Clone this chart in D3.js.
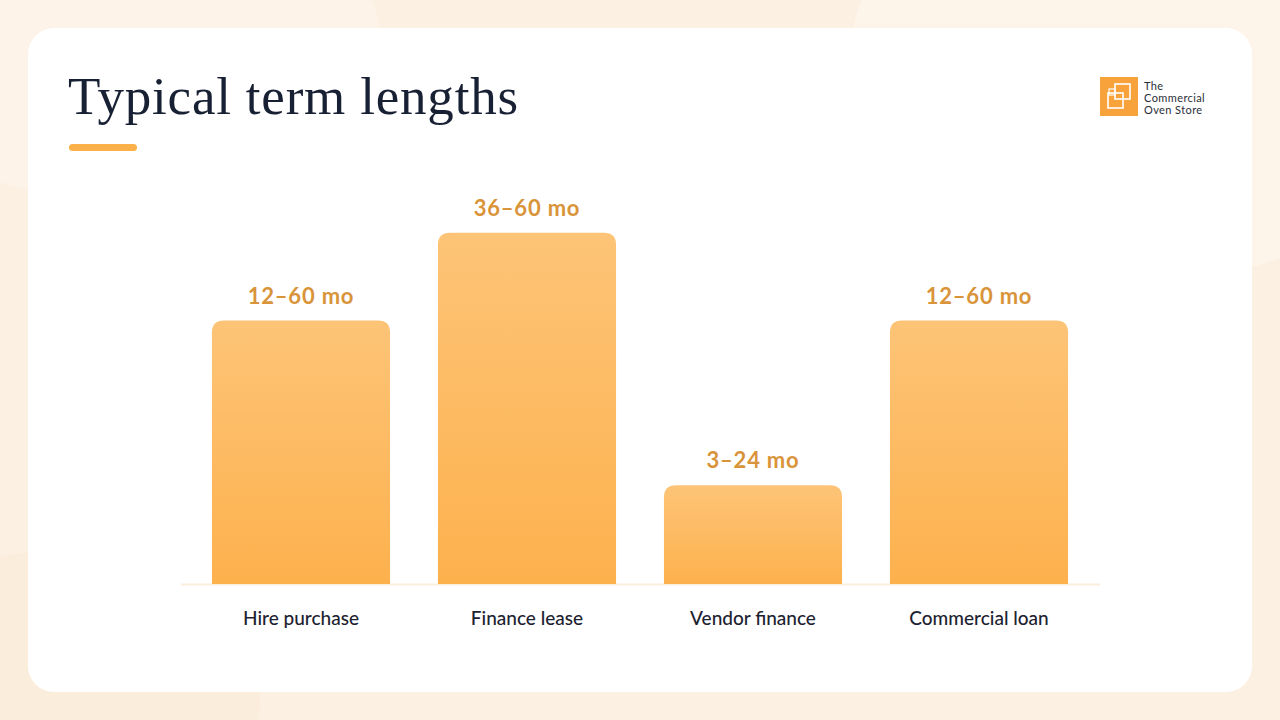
<!DOCTYPE html>
<html><head><meta charset="utf-8">
<script src="https://cdn.jsdelivr.net/npm/d3@7"></script>
<style>html,body{margin:0;padding:0;background:#fcf0e2;}svg{display:block;}</style>
</head><body><div id="chart"></div>
<script>
const categories = ["Hire purchase", "Finance lease", "Vendor finance", "Commercial loan"];
const rangeLabels = ["12–60 mo", "36–60 mo", "3–24 mo", "12–60 mo"];
const barValues = [36, 48, 13.5, 36];
const yDomain = [0, 60];

const W = 1280, H = 720;
const svg = d3.select("#chart").append("svg").attr("width", W).attr("height", H);
const defs = svg.append("defs");

// background
svg.append("rect").attr("width", W).attr("height", H).attr("fill", "#fcf0e2");
svg.append("ellipse").attr("cx", 1150).attr("cy", 60).attr("rx", 300).attr("ry", 220).attr("fill", "#fdf4ea");
svg.append("ellipse").attr("cx", 120).attr("cy", 40).attr("rx", 260).attr("ry", 160).attr("fill", "#fdf3e8");
svg.append("ellipse").attr("cx", 60).attr("cy", 700).attr("rx", 200).attr("ry", 150).attr("fill", "#fbeddc");

// card
svg.append("rect").attr("x", 28).attr("y", 28).attr("width", 1224).attr("height", 664)
  .attr("rx", 26).attr("fill", "#ffffff");

// title
svg.append("text").attr("x", 68).attr("y", 114)
  .attr("font-family", "'Liberation Serif', 'DejaVu Serif', serif")
  .attr("font-size", 53).attr("letter-spacing", 0.8).attr("fill", "#182033").text("Typical term lengths");
svg.append("rect").attr("x", 69).attr("y", 144).attr("width", 68).attr("height", 7)
  .attr("rx", 3.5).attr("fill", "#fbb04a");

// logo
const logo = svg.append("g").attr("transform", "translate(1100,77)");
logo.append("rect").attr("width", 38).attr("height", 39).attr("fill", "#f7a23a");
logo.append("rect").attr("x", 15).attr("y", 7).attr("width", 15).attr("height", 15).attr("fill", "none").attr("stroke", "#fff").attr("stroke-width", 1.6);
logo.append("rect").attr("x", 8).attr("y", 16).attr("width", 15).attr("height", 15).attr("fill", "none").attr("stroke", "#fff").attr("stroke-width", 1.6);
logo.append("rect").attr("x", 9).attr("y", 12).attr("width", 6).attr("height", 6).attr("fill", "none").attr("stroke", "#fff").attr("stroke-width", 1.2);
const logoText = ["The", "Commercial", "Oven Store"];
logo.selectAll("text.l").data(logoText).join("text")
  .attr("x", 44).attr("y", (d, i) => 13 + i * 12)
  .attr("font-family", "Lato, 'Open Sans', sans-serif").attr("font-size", 11)
  .attr("letter-spacing", 0.4)
  .attr("fill", "#2a2e38").text(d => d);

// scales
const x = d3.scaleBand().domain(categories).range([188, 1092]).paddingInner(0.212).paddingOuter(0.106);
const y = d3.scaleLinear().domain(yDomain).range([584, 145]);

const grad = defs.append("linearGradient").attr("id", "barGrad").attr("x1", 0).attr("y1", 0).attr("x2", 0).attr("y2", 1);
grad.append("stop").attr("offset", "0%").attr("stop-color", "#fdc477");
grad.append("stop").attr("offset", "100%").attr("stop-color", "#fdb14d");

// baseline
svg.append("line").attr("x1", 181).attr("x2", 1100).attr("y1", y(0) + 0.5).attr("y2", y(0) + 0.5)
  .attr("stroke", "#fbeedd").attr("stroke-width", 2);

const r = 12;
function barPath(d, i) {
  const x0 = x(categories[i]), w = x.bandwidth(), y0 = y(d), yb = y(0);
  return `M${x0},${yb} L${x0},${y0 + r} Q${x0},${y0} ${x0 + r},${y0} L${x0 + w - r},${y0} Q${x0 + w},${y0} ${x0 + w},${y0 + r} L${x0 + w},${yb} Z`;
}
svg.selectAll("path.bar").data(barValues).join("path").attr("class", "bar")
  .attr("d", barPath).attr("fill", "url(#barGrad)");

svg.selectAll("text.val").data(barValues).join("text").attr("class", "val")
  .attr("x", (d, i) => x(categories[i]) + x.bandwidth() / 2)
  .attr("y", d => y(d) - 17)
  .attr("text-anchor", "middle")
  .attr("font-family", "Lato, 'Open Sans', sans-serif").attr("font-weight", 700)
  .attr("font-size", 22).attr("letter-spacing", 0.8).attr("fill", "#d9943a")
  .text((d, i) => rangeLabels[i]);

const xAxis = svg.append("g").attr("transform", `translate(0,${y(0)})`)
  .call(d3.axisBottom(x).tickSize(0).tickPadding(0));
xAxis.select(".domain").remove();
xAxis.selectAll("text").attr("y", 41).attr("dy", 0)
  .attr("font-family", "Lato, 'Open Sans', sans-serif").attr("font-size", 19)
  .attr("font-weight", 500).attr("fill", "#1d2230");
</script>
</body></html>
